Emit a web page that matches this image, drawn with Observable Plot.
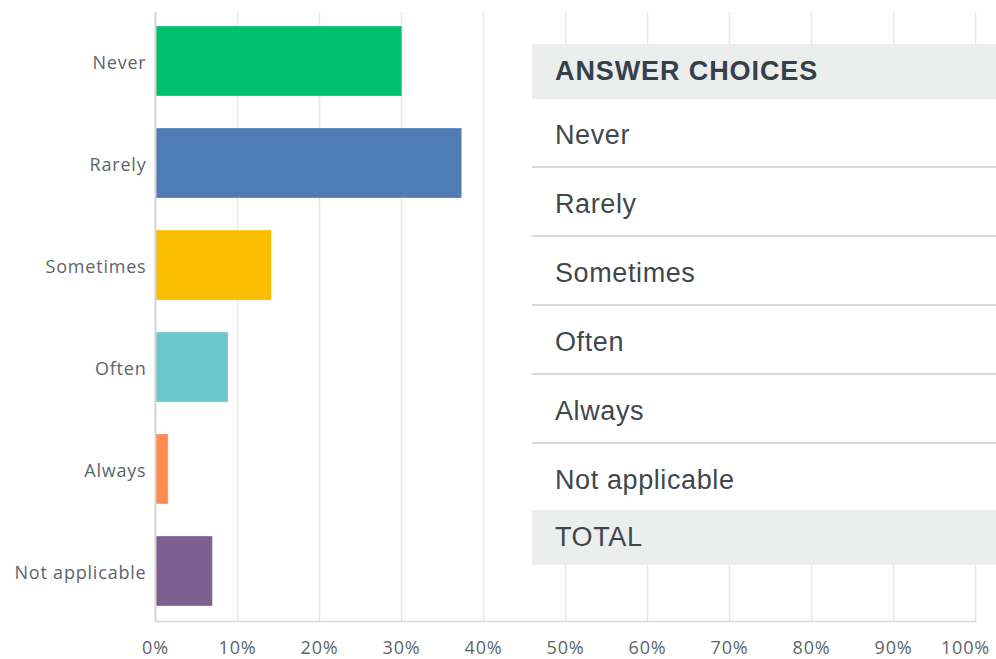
<!DOCTYPE html>
<html>
<head>
<meta charset="utf-8">
<script src="https://cdn.jsdelivr.net/npm/d3@7"></script>
<script src="https://cdn.jsdelivr.net/npm/@observablehq/plot@0.6"></script>
<style>
  html, body { margin: 0; padding: 0; background: #fff; }
  #wrap { position: relative; width: 996px; height: 659px; overflow: hidden; }
  #wrap svg { position: absolute; left: 0; top: 0; }
  #tbl { position: absolute; left: 532px; top: 44px; width: 464px; background: #fff;
         font-family: "Liberation Sans", Arial, sans-serif; color: #3f474e; }
  #tbl .row { box-sizing: border-box; padding-left: 23px; display: flex; align-items: center;
              font-size: 27px; letter-spacing: 0.6px; }
  #tbl .head { height: 55px; background: #eceeee; font-weight: bold; letter-spacing: 0.9px; color: #37404a; }
  #tbl .item { height: 69px; border-bottom: 2px solid #d9dada; padding-top: 6px; }
  #tbl .item.last { height: 65.5px; border-bottom: none; padding-top: 7px; }
  #tbl .foot { height: 55px; background: #eceeee; }
</style>
</head>
<body>
<div id="wrap"></div>
<script>
const categories = ["Never", "Rarely", "Sometimes", "Often", "Always", "Not applicable"];
const percents = [30.1, 37.4, 14.2, 8.9, 1.6, 7.0];
const barColors = ["#00bf6f", "#507cb6", "#f9be00", "#6bc8cd", "#ff8b4f", "#7f5f90"];
const xTicks = [0, 10, 20, 30, 40, 50, 60, 70, 80, 90, 100];
const tableHeader = "ANSWER CHOICES";
const tableFooter = "TOTAL";

const data = categories.map((c, i) => ({category: c, value: percents[i]}));

const chart = Plot.plot({
  width: 996,
  height: 659,
  marginLeft: 155,
  marginRight: 21,
  marginTop: 12,
  marginBottom: 38,
  style: {fontFamily: "'Open Sans', sans-serif", fontSize: "18px", color: "#5c656c", background: "white"},
  x: {domain: [0, 100]},
  y: {domain: categories, paddingInner: 0.31, paddingOuter: 0.14},
  color: {domain: categories, range: barColors},
  marks: [
    Plot.gridX({ticks: xTicks.slice(1), stroke: "#e6e6e6", strokeOpacity: 1, strokeWidth: 1.5}),
    Plot.barX(data, {x: "value", y: "category", fill: "category", stroke: "white", strokeOpacity: 0.3, strokeWidth: 1}),
    Plot.ruleX([0], {stroke: "#d4d4d4", strokeWidth: 2}),
    Plot.frame({anchor: "bottom", stroke: "#d9d9d9", strokeWidth: 1.5}),
    Plot.axisX({ticks: xTicks.slice(0, -1), tickSize: 0, tickPadding: 20, tickFormat: d => d + "%", label: null, fontSize: 18}),
    Plot.axisX({ticks: xTicks.slice(-1), tickSize: 0, tickPadding: 20, tickFormat: d => d + "%", label: null, fontSize: 18, dx: -10}),
    Plot.axisY({tickSize: 0, tickPadding: 9, label: null, fontSize: 18, dy: 2})
  ]
});
document.getElementById("wrap").appendChild(chart);
chart.querySelectorAll("text").forEach(t => t.setAttribute("letter-spacing", "0.8"));

const tbl = document.createElement("div");
tbl.id = "tbl";
const head = document.createElement("div");
head.className = "row head";
head.textContent = tableHeader;
tbl.appendChild(head);
categories.forEach((c, i) => {
  const r = document.createElement("div");
  r.className = "row item" + (i === categories.length - 1 ? " last" : "");
  r.textContent = c;
  tbl.appendChild(r);
});
const foot = document.createElement("div");
foot.className = "row foot";
foot.textContent = tableFooter;
tbl.appendChild(foot);
document.getElementById("wrap").appendChild(tbl);
</script>
</body>
</html>
